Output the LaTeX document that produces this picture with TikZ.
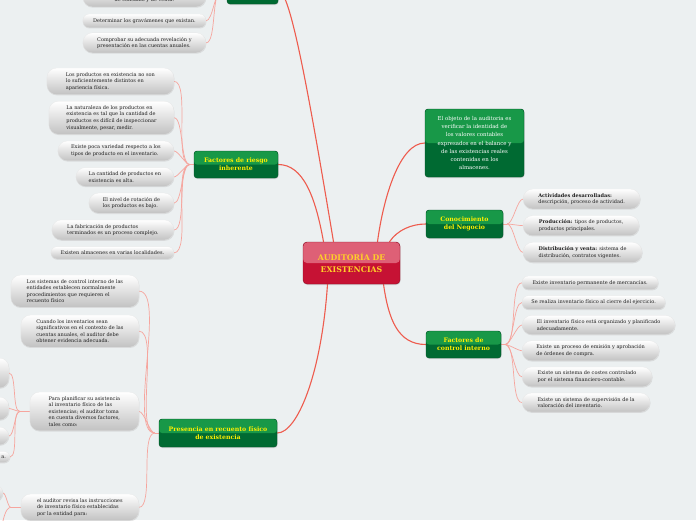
\documentclass[tikz,border=0pt]{standalone}
\usepackage{fontspec}
\setmainfont{DejaVu Serif}
\usetikzlibrary{positioning,shadows,backgrounds}

\definecolor{bgc}{RGB}{236,240,241}
\definecolor{gtop}{RGB}{24,152,72}
\definecolor{gbot}{RGB}{0,106,50}
\definecolor{gtxt}{RGB}{255,240,0}
\definecolor{rtop}{RGB}{222,96,118}
\definecolor{rbot}{RGB}{198,18,52}
\definecolor{rtxt}{RGB}{255,208,40}
\definecolor{linec}{RGB}{238,92,78}

\begin{document}
\begin{tikzpicture}[x=1pt,y=-1pt,
  lf/.style={rectangle,rounded corners=6pt,top color=white,bottom color=black!24,draw=black!10,very thin,align=left,text=black!88,font=\fontsize{5}{6.6}\selectfont,inner xsep=4pt,inner ysep=4.2pt,drop shadow={opacity=.18,shadow xshift=.4pt,shadow yshift=-.8pt}},
  tall/.style={rounded corners=9.5pt},
  gr/.style={rectangle,rounded corners=3pt,fill=gbot,draw=gbot!75!black,align=center,text=gtxt,font=\bfseries\fontsize{6.2}{7.8}\selectfont,inner sep=2pt,path picture={\fill[gtop](path picture bounding box.north west) rectangle (path picture bounding box.east);},drop shadow={opacity=.25,shadow xshift=.5pt,shadow yshift=-1pt}},
  rt/.style={rectangle,rounded corners=4pt,fill=rbot,draw=rbot!70!black,align=center,text=rtxt,font=\bfseries\fontsize{7.8}{12}\selectfont,inner sep=2pt,path picture={\fill[rtop](path picture bounding box.north west) rectangle (path picture bounding box.east);},drop shadow={opacity=.25,shadow xshift=.5pt,shadow yshift=-1pt}},
  br/.style={draw=linec,line width=1.1pt},
  tw/.style={draw=linec!55,line width=.7pt,looseness=.5}]
\useasboundingbox (0,0) rectangle (696,520);

% main topics
\node[rt,minimum width=97pt,minimum height=42pt] (root) at (351.5,263) {AUDITORÍA DE\\EXISTENCIAS};
\node[gr,minimum width=51pt,minimum height=28pt] (t) at (252.5,-10) {};
\node[gr,minimum width=84pt,minimum height=27pt] (fr) at (236,164.5) {Factores de riesgo\\inherente};
\node[gr,minimum width=118pt,minimum height=28pt] (pr) at (218,433) {Presencia en recuento físico\\de existencia};
\node[gr,text=white,font=\fontsize{5.4}{8.2}\selectfont,minimum width=99pt,minimum height=68pt] (ob) at (474.5,143) {El objeto de la auditoria es\\verificar la identidad de\\los valores contables\\expresados en el balance y\\de las existencias reales\\contenidas en los\\almacenes.};
\node[gr,minimum width=77pt,minimum height=28pt] (cn) at (464.5,224) {Conocimiento\\del Negocio};
\node[gr,minimum width=75pt,minimum height=27pt] (ci) at (463.5,344.5) {Factores de\\control interno};

% leaves up
\node[lf,minimum width=123pt,anchor=north east] (t1) at (206,14) {Determinar los gravámenes que existan.};
\node[lf,tall,minimum width=123pt,above=7pt of t1.north east,anchor=south east] (t0) {\strut\\de consumo y de venta.};
\node[lf,tall,minimum width=123pt,below=5pt of t1.south east,anchor=north east] (t2) {Comprobar su adecuada revelación y\\presentación en las cuentas anuales.};

% leaves of riesgo
\node[lf,tall,minimum width=127pt,anchor=north east] (r1) at (174,68) {Los productos en existencia no son\\lo suficientemente distintos en\\apariencia física.};
\node[lf,tall,minimum width=125pt,below=6.5pt of r1.south east,anchor=north east] (r2) {La naturaleza de los productos en\\existencia es tal que la cantidad de\\productos es difícil de inspeccionar\\visualmente, pesar, medir.};
\node[lf,tall,minimum width=116pt,below=6.5pt of r2.south east,anchor=north east] (r3) {Existe poca variedad respecto a los\\tipos de producto en el inventario.};
\node[lf,tall,minimum width=98pt,below=6.5pt of r3.south east,anchor=north east] (r4) {La cantidad de productos en\\existencia es alta.};
\node[lf,tall,minimum width=85pt,below=6.5pt of r4.south east,anchor=north east] (r5) {El nivel de rotación de\\los productos es bajo.};
\node[lf,tall,minimum width=122pt,below=6.5pt of r5.south east,anchor=north east] (r6) {La fabricación de productos\\terminados es un proceso complejo.};
\node[lf,minimum width=123pt,below=6.5pt of r6.south east,anchor=north east] (r7) {Existen almacenes en varias localidades.};

% leaves of presencia
\node[lf,tall,minimum width=128pt,anchor=north east] (p1) at (139,275) {Los sistemas de control interno de las\\entidades establecen normalmente\\procedimientos que requieren el\\recuento físico};
\node[lf,tall,minimum width=118pt,anchor=north east] (p2) at (139,315) {Cuando los inventarios sean\\significativos en el contexto de las\\cuentas anuales, el auditor debe\\obtener evidencia adecuada.};
\node[lf,tall,minimum width=109pt,anchor=north east] (p3) at (139,392) {Para planificar su asistencia\\al inventario físico de las\\existencias; el auditor toma\\en cuenta diversos factores,\\tales como:};
\node[lf,tall,minimum width=118pt,anchor=north east] (p4) at (139,494) {el auditor revisa las instrucciones\\de inventario físico establecidas\\por la entidad para:};
\node[lf,tall,minimum width=100pt,minimum height=30pt,anchor=east] (x1) at (9,373) {};
\node[lf,tall,minimum width=100pt,minimum height=23pt,anchor=east] (x2) at (9,408.5) {};
\node[lf,tall,minimum width=100pt,minimum height=18pt,anchor=east] (x3) at (9,436) {};
\node[lf,text width=40pt,align=right,anchor=east] (x4) at (10,457) {a.};
\node[lf,tall,minimum width=100pt,minimum height=18pt,anchor=east] (x5) at (3,493) {};
\coordinate (xz) at (-10,560);

% leaves of negocio
\node[lf,tall,minimum width=117pt,anchor=north west] (k1) at (523,189) {\textbf{Actividades desarrolladas:}\\descripción, proceso de actividad.};
\node[lf,tall,minimum width=116pt,below=6.5pt of k1.south west,anchor=north west] (k2) {\textbf{Producción:} tipos de productos,\\productos principales.};
\node[lf,tall,minimum width=119pt,below=6.5pt of k2.south west,anchor=north west] (k3) {\textbf{Distribución y venta:} sistema de\\distribución, contratos vigentes.};

% leaves of control interno
\node[lf,minimum width=136pt,anchor=north west] (c1) at (522,276) {Existe inventario permanente de mercancías.};
\node[lf,minimum width=143pt,below=6pt of c1.south west,anchor=north west] (c2) {Se realiza inventario físico al cierre del ejercicio.};
\node[lf,tall,minimum width=153pt,below=6pt of c2.south west,anchor=north west] (c3) {El inventario físico está organizado y planificado\\adecuadamente.};
\node[lf,tall,minimum width=137pt,below=6pt of c3.south west,anchor=north west] (c4) {Existe un proceso de emisión y aprobación\\de órdenes de compra.};
\node[lf,tall,minimum width=130pt,below=6pt of c4.south west,anchor=north west] (c5) {Existe un sistema de costes controlado\\por el sistema financiero-contable.};
\node[lf,tall,minimum width=128pt,below=6pt of c5.south west,anchor=north west] (c6) {Existe un sistema de supervisión de la\\valoración del inventario.};

% joints
\coordinate (tj) at ([xshift=-5pt]t.west);
\coordinate (fj) at ([xshift=-4pt]fr.west);
\coordinate (pj) at ([xshift=-4pt]pr.west);
\coordinate (p3j) at ([xshift=-10pt]p3.west);
\coordinate (p4j) at ([xshift=-10pt]p4.west);
\coordinate (kj) at ([xshift=4pt]cn.east);
\coordinate (cj) at ([xshift=4pt]ci.east);

\begin{scope}[on background layer]
\fill[bgc] (0,0) rectangle (696,520);
\draw[br] (t.east) .. controls +(12,0) and +(-25,-150) .. ([xshift=-18pt]root.north);
\draw[br] (fr.east) .. controls +(25,0) and +(-8,-45) .. ([xshift=-28pt]root.north);
\draw[br] ([xshift=26pt]root.north) .. controls +(6,-45) and +(-25,0) .. (ob.west);
\draw[br] ([xshift=38pt]root.north) .. controls +(8,-12) and +(-14,0) .. (cn.west);
\draw[br] ([xshift=32pt]root.south) .. controls +(5,35) and +(-28,0) .. (ci.west);
\draw[br] ([xshift=-24pt]root.south) .. controls +(-6,90) and +(20,0) .. (pr.east);
\draw[tw](t.west)--(tj);
\draw[tw](tj) to[out=180,in=0](t0.east);\draw[tw](tj) to[out=180,in=0](t1.east);\draw[tw](tj) to[out=180,in=0](t2.east);
\draw[tw](fr.west)--(fj);
\draw[tw](fj) to[out=180,in=0](r1.east);\draw[tw](fj) to[out=180,in=0](r2.east);\draw[tw](fj) to[out=180,in=0](r3.east);
\draw[tw](fj) to[out=180,in=0](r4.east);\draw[tw](fj) to[out=180,in=0](r5.east);\draw[tw](fj) to[out=180,in=0](r6.east);
\draw[tw](fj) to[out=180,in=0](r7.east);
\draw[tw](pr.west)--(pj);
\draw[tw](pj) to[out=180,in=0](p1.east);\draw[tw](pj) to[out=180,in=0](p2.east);
\draw[tw](pj) to[out=180,in=0](p3.east);\draw[tw](pj) to[out=180,in=0](p4.east);
\draw[tw](p3.west)--(p3j);
\draw[tw](p3j) to[out=180,in=0](x1.east);\draw[tw](p3j) to[out=180,in=0](x2.east);
\draw[tw](p3j) to[out=180,in=0](x3.east);\draw[tw](p3j) to[out=180,in=0](x4.east);
\draw[tw](p4.west)--(p4j);
\draw[tw](p4j) to[out=180,in=0](x5.east);\draw[tw](p4j) to[out=180,in=0](xz);
\draw[tw](cn.east)--(kj);
\draw[tw](kj) to[out=0,in=180](k1.west);\draw[tw](kj) to[out=0,in=180](k2.west);\draw[tw](kj) to[out=0,in=180](k3.west);
\draw[tw](ci.east)--(cj);
\draw[tw](cj) to[out=0,in=180](c1.west);\draw[tw](cj) to[out=0,in=180](c2.west);\draw[tw](cj) to[out=0,in=180](c3.west);
\draw[tw](cj) to[out=0,in=180](c4.west);\draw[tw](cj) to[out=0,in=180](c5.west);\draw[tw](cj) to[out=0,in=180](c6.west);
\end{scope}
\end{tikzpicture}
\end{document}
